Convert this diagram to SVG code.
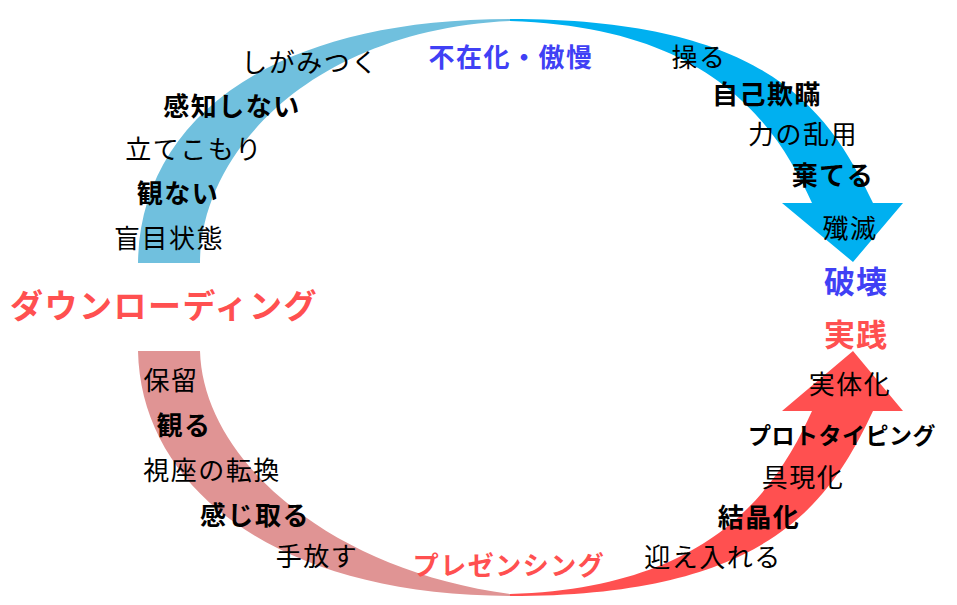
<svg xmlns="http://www.w3.org/2000/svg" width="957" height="605" viewBox="0 0 957 605">
<style>
text{font-family:"Noto Sans CJK JP","Noto Sans",sans-serif;text-anchor:middle;}
.r{font-size:26px;font-weight:400;fill:#000;letter-spacing:1.5px;}
.b{font-size:26px;font-weight:700;fill:#000;letter-spacing:1.5px;}
.blue{font-size:26px;font-weight:700;fill:#4040f5;letter-spacing:1.5px;}
.red{font-weight:700;fill:#ff5050;}
.big{font-size:31px;letter-spacing:1px;}
</style>
<rect width="957" height="605" fill="#fff"/>
<g id="connectors">
<path id="arc-top-left" fill="#70c0de" d="M510,19 C270,19 140,120 138,263 L200,263 C200,150 315,30 510,21 Z"/>
<path id="arc-top-right" fill="#00b0f0" d="M510,19 C764,19 828,107 873,203 L903,203 L853,262 L782,203 L812,203 C776,123 710,27 510,21 Z"/>
<path id="arc-bottom-left" fill="#e09494" d="M510,596 C280,596 141,490 138,351 L200,351 C203,460 330,570 510,594 Z"/>
<path id="arc-bottom-right" fill="#ff5050" d="M510,596 C764,596 828,507 873,411 L903,411 L853,351 L782,411 L812,411 C776,491 710,588 510,594 Z"/>
</g>
<g id="n-shigamitsuku"><text class="r" x="310" y="72">しがみつく</text></g>
<g id="n-kanchishinai"><text class="b" x="232" y="116">感知しない</text></g>
<g id="n-tatekomori"><text class="r" x="194" y="159">立てこもり</text></g>
<g id="n-minai"><text class="b" x="178" y="203">観ない</text></g>
<g id="n-moumoku"><text class="r" x="169" y="248">盲目状態</text></g>
<g id="n-fuzaika"><text class="blue" x="511" y="67">不在化・傲慢</text></g>
<g id="n-ayatsuru"><text class="r" x="699" y="67">操る</text></g>
<g id="n-jikogiman"><text class="b" x="767" y="104">自己欺瞞</text></g>
<g id="n-chikara"><text class="r" x="803" y="144">力の乱用</text></g>
<g id="n-suteru"><text class="b" x="833" y="185">棄てる</text></g>
<g id="n-senmetsu"><text class="r" x="850" y="238">殲滅</text></g>
<g id="n-hakai"><text class="blue big" x="856" y="293">破壊</text></g>
<g id="n-jissen"><text class="red big" x="856" y="346">実践</text></g>
<g id="n-downloading"><text class="red" x="164" y="318" style="font-size:33px;letter-spacing:1.5px">ダウンローディング</text></g>
<g id="n-horyu"><text class="r" x="171" y="390">保留</text></g>
<g id="n-miru"><text class="b" x="184" y="435">観る</text></g>
<g id="n-shiza"><text class="r" x="212" y="480">視座の転換</text></g>
<g id="n-kanjitoru"><text class="b" x="255" y="525">感じ取る</text></g>
<g id="n-tebanasu"><text class="r" x="317" y="566">手放す</text></g>
<g id="n-presencing"><text class="red" x="509" y="575" style="font-size:26px;letter-spacing:1.5px">プレゼンシング</text></g>
<g id="n-mukaeireru"><text class="r" x="713" y="567">迎え入れる</text></g>
<g id="n-kesshouka"><text class="b" x="759" y="527">結晶化</text></g>
<g id="n-gugenka"><text class="r" x="803" y="487">具現化</text></g>
<g id="n-prototyping"><text class="b" x="842" y="444" style="font-size:23px;letter-spacing:0.5px">プロトタイピング</text></g>
<g id="n-jittaika"><text class="r" x="850" y="394">実体化</text></g>
</svg>
